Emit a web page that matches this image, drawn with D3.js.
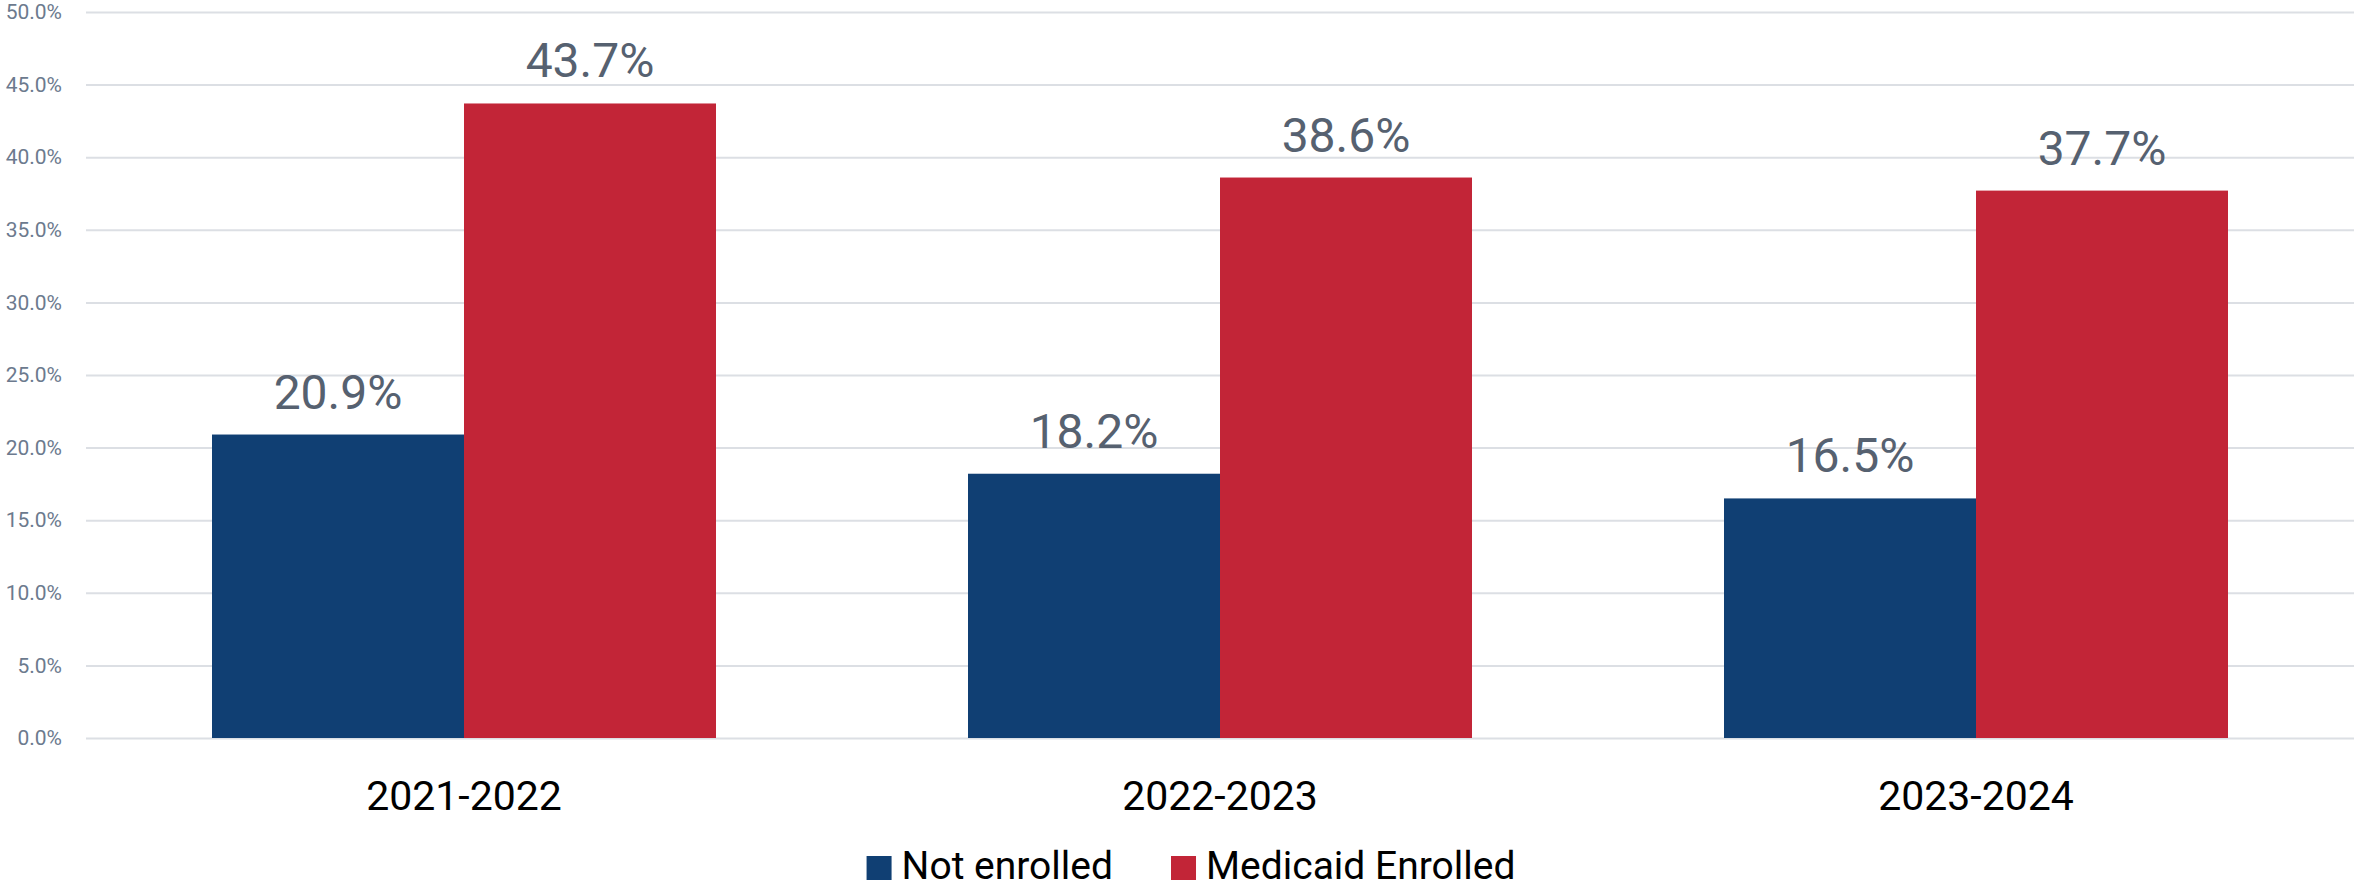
<!DOCTYPE html>
<html>
<head>
<meta charset="utf-8">
<script src="https://d3js.org/d3.v7.min.js"></script>
<style>
  body { margin: 0; background: #fff; font-family: "Roboto", "Noto Sans", sans-serif; }
</style>
</head>
<body>
<div id="chart"></div>
<script>
// data
var years = ["2021-2022", "2022-2023", "2023-2024"]
var seriesNames = ["Not enrolled", "Medicaid Enrolled"]
var notEnrolled = [20.9, 18.2, 16.5]
var medicaidEnrolled = [43.7, 38.6, 37.7]
var yTicks = [0, 5, 10, 15, 20, 25, 30, 35, 40, 45, 50]

var colors = ["#103f73", "#c22537"]
var W = 2356, H = 890
var margin = { top: 12, right: 2, bottom: 152, left: 86 }

var svg = d3.select("#chart").append("svg")
    .attr("width", W)
    .attr("height", H)

var rows = years.map(function(y, i) {
    return { year: y, values: [notEnrolled[i], medicaidEnrolled[i]] }
})

var x0 = d3.scaleBand()
    .domain(years)
    .range([margin.left, W - margin.right])
    .paddingInner(1 / 3)
    .paddingOuter(1 / 6)

var x1 = d3.scaleBand()
    .domain([0, 1])
    .range([0, x0.bandwidth()])
    .padding(0)

var y = d3.scaleLinear()
    .domain([0, 50])
    .range([H - margin.bottom, margin.top])

// gridlines + y tick labels
var yAxis = d3.axisLeft(y)
    .tickValues(yTicks)
    .tickSize(-(W - margin.right - margin.left))
    .tickPadding(24)
    .tickFormat(function(d) { return d.toFixed(1) + "%" })

var gy = svg.append("g")
    .attr("transform", "translate(" + margin.left + ",0)")
    .call(yAxis)
gy.select(".domain").remove()
gy.selectAll(".tick line")
    .attr("stroke", "#dcdfe4")
    .attr("stroke-width", 2)
gy.selectAll(".tick text")
    .attr("fill", "#6c7a8e")
    .style("font-family", "Roboto, sans-serif")
    .style("font-size", "21px")

// bars
var groups = svg.selectAll("g.year")
    .data(rows)
    .enter().append("g")
    .attr("class", "year")
    .attr("transform", function(d) { return "translate(" + x0(d.year) + ",0)" })

groups.selectAll("rect")
    .data(function(d) { return d.values })
    .enter().append("rect")
    .attr("x", function(d, i) { return x1(i) })
    .attr("y", function(d) { return y(d) })
    .attr("width", x1.bandwidth())
    .attr("height", function(d) { return y(0) - y(d) })
    .attr("fill", function(d, i) { return colors[i] })

// value labels
groups.selectAll("text.val")
    .data(function(d) { return d.values })
    .enter().append("text")
    .attr("class", "val")
    .attr("x", function(d, i) { return x1(i) + x1.bandwidth() / 2 })
    .attr("y", function(d) { return y(d) - 26 })
    .attr("text-anchor", "middle")
    .attr("fill", "#566170")
    .style("font-size", "48px")
    .text(function(d) { return d.toFixed(1) + "%" })

// category labels
svg.selectAll("text.cat")
    .data(years)
    .enter().append("text")
    .attr("class", "cat")
    .attr("x", function(d) { return x0(d) + x0.bandwidth() / 2 })
    .attr("y", 810)
    .attr("text-anchor", "middle")
    .attr("fill", "#000")
    .style("font-size", "41px")
    .text(function(d) { return d })

// legend
var legend = svg.append("g")
var lx = 0
seriesNames.forEach(function(name, i) {
    var g = legend.append("g").attr("transform", "translate(" + lx + ",0)")
    g.append("rect")
        .attr("x", 0)
        .attr("y", 856)
        .attr("width", 25)
        .attr("height", 24)
        .attr("fill", colors[i])
    var t = g.append("text")
        .attr("x", 35)
        .attr("y", 879)
        .attr("fill", "#000")
        .style("font-size", "39px")
        .text(name)
    lx += 35 + t.node().getComputedTextLength() + 58
})
var legendW = lx - 58
legend.attr("transform", "translate(" + (1191 - legendW / 2) + ",0)")
</script>
</body>
</html>
